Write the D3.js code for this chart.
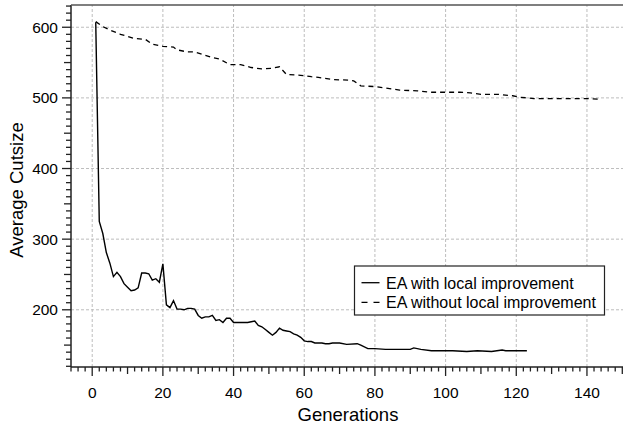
<!DOCTYPE html>
<html>
<head>
<meta charset="utf-8">
<script src="https://cdn.jsdelivr.net/npm/d3@7"></script>
<style>
  body { margin: 0; background: #fff; }
  text { font-family: "Liberation Sans", Arial, sans-serif; fill: #000; }
</style>
</head>
<body>
<div id="chart"></div>
<script>
// EA with local improvement (solid)
const withGen = [1, 2, 3, 4, 5, 6, 7, 8, 9, 10, 11, 12, 13, 14, 15, 16, 17, 18, 19, 20,
  21, 22, 23, 24, 25, 26, 27, 28, 29, 30, 31, 32, 33, 34, 35, 36, 37, 38, 39, 40,
  41, 42, 43, 44, 45, 46, 47, 48, 49, 50, 51, 52, 53, 54, 55, 56, 57, 58, 59, 60,
  61, 62, 63, 64, 65, 66, 67, 68, 70, 72, 75, 76, 78, 80, 83, 87, 90, 91, 93, 96,
  99, 102, 106, 109, 113, 116, 117, 120, 123];
const withVal = [607, 325, 308, 281, 266, 247, 253, 247, 237, 232, 227, 228, 231, 252, 252, 251, 242, 244, 239, 265,
  207, 203, 213, 201, 201, 200, 202, 202, 201, 192, 188, 190, 190, 192, 185, 186, 182, 188, 188, 182,
  182, 182, 182, 182, 183, 184, 178, 176, 172, 168, 164, 168, 174, 171, 170, 169, 166, 164, 161, 156,
  155, 155, 153, 153, 153, 152, 152, 153, 153, 151, 152, 150, 145, 145, 144, 144, 144, 146, 144, 142,
  142, 142, 141, 142, 141, 143, 142, 142, 142];

// EA without local improvement (dashed)
const withoutGen = [1, 3, 5, 8, 12, 15, 17, 20, 23, 24, 27, 29, 31, 34, 36, 39, 42, 45, 48, 51,
  53, 55, 59, 62, 64, 68, 73, 74, 76, 80, 83, 87, 92, 96, 100, 104, 107, 110, 115, 119,
  121, 125, 130, 135, 140, 144];
const withoutVal = [608, 601, 596, 590, 584, 583, 576, 573, 572, 568, 565, 565, 562, 557, 555, 547, 547, 543, 541, 542,
  544, 533, 532, 530, 529, 526, 525, 524, 517, 516, 514, 511, 510, 508, 508, 508, 507, 505, 505, 503,
  501, 499, 499, 499, 499, 498];

const xTicks = [0, 20, 40, 60, 80, 100, 120, 140];
const yTicks = [200, 300, 400, 500, 600];
const legendLabels = ['EA with local improvement', 'EA without local improvement'];

const W = 623, H = 428;
const margin = {top: 5, right: 0, bottom: 61, left: 71};

const svg = d3.select('#chart').append('svg')
  .attr('width', W)
  .attr('height', H);

const x = d3.scaleLinear().domain([-6, 150.2]).range([margin.left, W - margin.right]);
const y = d3.scaleLinear().domain([119, 631.5]).range([H - margin.bottom, margin.top]);

// grid
svg.append('g').selectAll('line.gx').data(xTicks).enter().append('line')
  .attr('x1', d => x(d)).attr('x2', d => x(d))
  .attr('y1', y.range()[0]).attr('y2', y.range()[1])
  .attr('stroke', '#bdbdbd').attr('stroke-dasharray', '3,2').attr('stroke-width', 1);
svg.append('g').selectAll('line.gy').data(yTicks).enter().append('line')
  .attr('x1', x.range()[0]).attr('x2', x.range()[1])
  .attr('y1', d => y(d)).attr('y2', d => y(d))
  .attr('stroke', '#bdbdbd').attr('stroke-dasharray', '3,2').attr('stroke-width', 1);

// minor ticks
const xMinor = d3.range(-6, 151, 2);
const yMinor = d3.range(120, 631, 10);

svg.append('g').selectAll('line').data(xMinor).enter().append('line')
  .attr('x1', d => x(d)).attr('x2', d => x(d))
  .attr('y1', y.range()[0])
  .attr('y2', d => y.range()[0] + (d % 20 === 0 ? 9 : d % 10 === 0 ? 7 : 4.5))
  .attr('stroke', '#222').attr('stroke-width', 1.3);

svg.append('g').selectAll('line').data(yMinor).enter().append('line')
  .attr('y1', d => y(d)).attr('y2', d => y(d))
  .attr('x1', x.range()[0])
  .attr('x2', d => x.range()[0] - (d % 100 === 0 ? 9 : d % 50 === 0 ? 7 : 5))
  .attr('stroke', '#222').attr('stroke-width', 1.3);

// axis lines + top border
svg.append('line')
  .attr('x1', x.range()[0]).attr('x2', x.range()[1])
  .attr('y1', y.range()[0]).attr('y2', y.range()[0])
  .attr('stroke', '#222').attr('stroke-width', 1.5);
svg.append('line')
  .attr('x1', x.range()[0]).attr('x2', x.range()[0])
  .attr('y1', y.range()[0]).attr('y2', y.range()[1])
  .attr('stroke', '#222').attr('stroke-width', 1.5);
svg.append('line')
  .attr('x1', x.range()[0]).attr('x2', x.range()[1])
  .attr('y1', y.range()[1]).attr('y2', y.range()[1])
  .attr('stroke', '#555').attr('stroke-width', 1.5);

// tick labels
svg.append('g').selectAll('text').data(xTicks).enter().append('text')
  .attr('x', d => x(d))
  .attr('y', 398)
  .attr('text-anchor', 'middle')
  .style('font-size', '15.5px')
  .text(d => d);

svg.append('g').selectAll('text').data(yTicks).enter().append('text')
  .attr('x', 58)
  .attr('y', d => y(d) + 5.5)
  .attr('text-anchor', 'end')
  .style('font-size', '15.5px')
  .text(d => d);

// axis titles
svg.append('text')
  .attr('x', 348)
  .attr('y', 421)
  .attr('text-anchor', 'middle')
  .style('font-size', '18.5px')
  .text('Generations');

svg.append('text')
  .attr('transform', 'translate(23,190) rotate(-90)')
  .attr('text-anchor', 'middle')
  .style('font-size', '18.5px')
  .text('Average Cutsize');

// lines
const line = d3.line().x(d => x(d[0])).y(d => y(d[1]));

svg.append('path')
  .datum(withoutGen.map((g, i) => [g, withoutVal[i]]))
  .attr('d', line)
  .attr('fill', 'none')
  .attr('stroke', '#000')
  .attr('stroke-width', 1.3)
  .attr('stroke-dasharray', '5,4');

svg.append('path')
  .datum(withGen.map((g, i) => [g, withVal[i]]))
  .attr('d', line)
  .attr('fill', 'none')
  .attr('stroke', '#000')
  .attr('stroke-width', 1.4);

// legend
const lg = svg.append('g').attr('transform', 'translate(354.5,266)');
lg.append('rect')
  .attr('width', 250).attr('height', 49)
  .attr('fill', '#fff').attr('stroke', '#222').attr('stroke-width', 1.2);
lg.selectAll('line').data(legendLabels).enter().append('line')
  .attr('x1', 7).attr('x2', 25)
  .attr('y1', (d, i) => 16.7 + i * 19.6).attr('y2', (d, i) => 16.7 + i * 19.6)
  .attr('stroke', '#000').attr('stroke-width', 1.3)
  .attr('stroke-dasharray', (d, i) => i === 0 ? null : '6,6');
lg.selectAll('text').data(legendLabels).enter().append('text')
  .attr('x', 31.5)
  .attr('y', (d, i) => 23.3 + i * 19)
  .style('font-size', '16px')
  .text(d => d);
</script>
</body>
</html>
